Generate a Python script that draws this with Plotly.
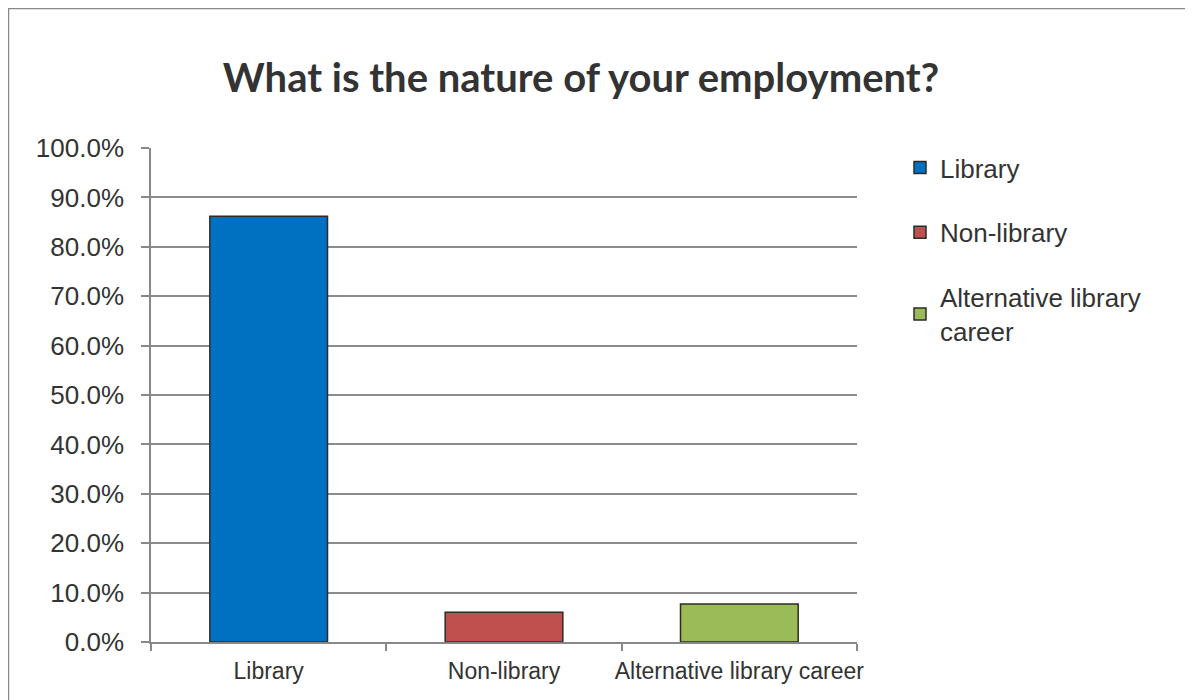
import plotly.graph_objects as go

categories = ["Library", "Non-library", "Alternative library career"]
legend_names = ["Library", "Non-library", "Alternative library<br>career"]
shares = [0.862, 0.060, 0.077]
colors = ["#0070C0", "#C0504D", "#9BBB59"]

# the page puts the figure 8px in from the corner, so sizes are shrunk by that
W, H = 1185, 692
L, R, T, B = 143, 336, 140, 58


def px_x(x):
    return (x - L) / (W - L - R)


def px_y(y):
    return (H - B - y) / (H - T - B)


fig = go.Figure()
for i, cat in enumerate(categories):
    fig.add_trace(go.Bar(
        name=legend_names[i], x=[cat], y=[shares[i]], width=0.5,
        marker=dict(color=colors[i], line=dict(color="#2b2b2b", width=1.5)),
        legendgroup=f"g{i}"))

fig.update_layout(
    width=W, height=H, barmode="overlay",
    margin=dict(l=L, r=R, t=T, b=B, autoexpand=False),
    paper_bgcolor="white", plot_bgcolor="white",
    font=dict(family="Liberation Sans, Arial", color="#333333"),
    title=dict(text="<b>What is the nature of your employment?</b>",
               x=0.4835, xanchor="center", y=1 - 70 / H, yanchor="middle",
               font=dict(family="Lato, Open Sans", size=40, color="#333333")),
    legend=dict(x=px_x(892), xanchor="left", y=px_y(136), yanchor="top",
                font=dict(size=26, color="#333333"), tracegroupgap=28,
                itemwidth=30, bgcolor="rgba(0,0,0,0)"),
    showlegend=True,
)

fig.update_xaxes(
    type="category", categoryorder="array", categoryarray=categories,
    showline=True, linecolor="#888888", linewidth=1.5,
    ticks="outside", tickson="boundaries", ticklen=7, tickcolor="#888888",
    tickwidth=1.5, showgrid=False, tickangle=0, ticklabelstandoff=8,
    tickfont=dict(size=23, color="#333333"))

fig.update_yaxes(
    range=[0, 1], dtick=0.1, tickformat=".1%",
    showline=True, linecolor="#888888", linewidth=1.5,
    ticks="outside", ticklen=8, tickcolor="#888888", tickwidth=1.5,
    ticklabelstandoff=12,
    showgrid=True, gridcolor="#8c8c8c", gridwidth=1.5, zeroline=False,
    tickfont=dict(size=26, color="#333333"))

# outer chart frame (left and top edges are visible in the picture)
fig.add_shape(type="rect", xref="paper", yref="paper",
              x0=px_x(0.5), x1=px_x(W + 20), y0=px_y(H + 20), y1=px_y(0.5),
              line=dict(color="#8a8a8a", width=1.5), layer="below")

fig.write_html("out.html")
